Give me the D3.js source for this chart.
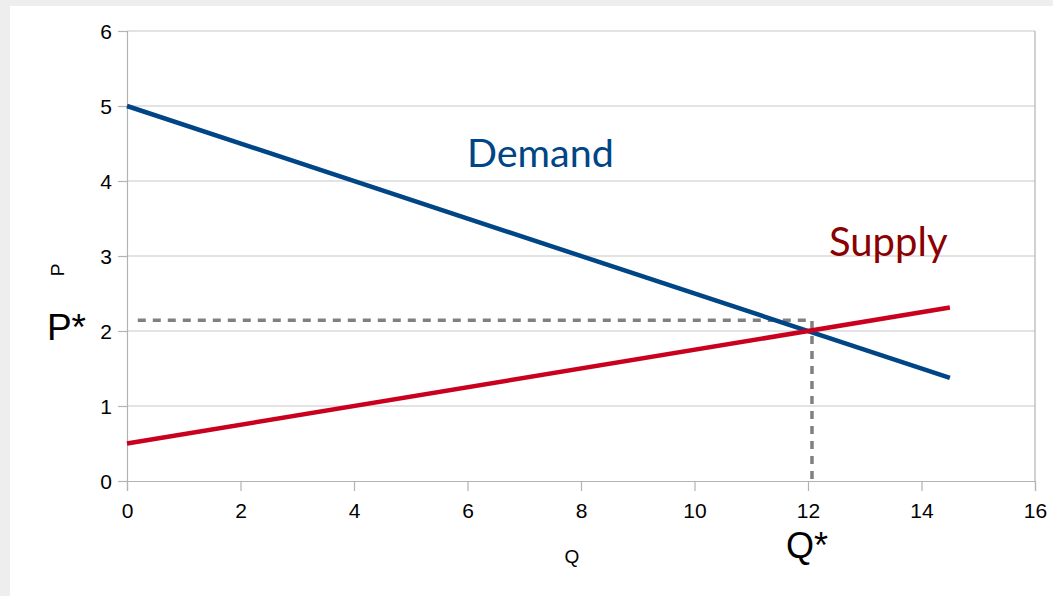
<!DOCTYPE html>
<html><head><meta charset="utf-8">
<script src="https://cdn.jsdelivr.net/npm/d3@7"></script>
<style>
html,body{margin:0;padding:0;background:#eeeeee;}
svg{display:block;}
</style></head>
<body>
<svg id="c" width="1053" height="596"></svg>
<script>
const xTicks = [0, 2, 4, 6, 8, 10, 12, 14, 16];
const yTicks = [0, 1, 2, 3, 4, 5, 6];
const demandQ = [0, 14.5];
const demandP = [5, 1.375];
const supplyQ = [0, 14.5];
const supplyP = [0.5, 2.3125];
const eqDashQ = [0.19, 12.07, 12.07];
const eqDashP = [2.145, 2.145, 0];
const labels = ["Demand", "Supply", "P*", "Q*", "P", "Q"];

const svg = d3.select("#c");
svg.append("rect").attr("x", 10).attr("y", 6).attr("width", 1043).attr("height", 590).attr("fill", "#fff");

const x = d3.scaleLinear().domain([0, 16]).range([127, 1035]);
const y = d3.scaleLinear().domain([0, 6]).range([481, 31]);

svg.append("g").selectAll("line").data(yTicks.filter(d => d > 0)).join("line")
  .attr("x1", x(0)).attr("x2", x(16)).attr("y1", d => y(d)).attr("y2", d => y(d))
  .attr("stroke", "#c8c8c8").attr("stroke-width", 1.2);
svg.append("line").attr("x1", x(16)).attr("x2", x(16)).attr("y1", y(0)).attr("y2", y(6))
  .attr("stroke", "#b3b3b3").attr("stroke-width", 1.2);

const yAxis = d3.axisLeft(y).tickValues(yTicks).tickSize(9).tickPadding(6).tickFormat(d3.format("d"));
const gy = svg.append("g").attr("transform", `translate(${x(0)},0)`).call(yAxis);
const xAxis = d3.axisBottom(x).tickValues(xTicks).tickSize(10).tickPadding(12).tickFormat(d3.format("d"));
const gx = svg.append("g").attr("transform", `translate(0,${y(0)})`).call(xAxis);
[gx, gy].forEach(g => {
  g.select(".domain").attr("stroke", "#b3b3b3").attr("stroke-width", 1.2);
  g.selectAll(".tick line").attr("stroke", "#b3b3b3").attr("stroke-width", 1.2);
  g.selectAll(".tick text").attr("font-family", "Liberation Sans, Arial, sans-serif")
    .attr("font-size", 21).attr("fill", "#000");
});
gy.selectAll(".tick text").attr("dy", "0.36em");

const line = d3.line().x(d => x(d[0])).y(d => y(d[1]));
svg.append("path").attr("d", line(eqDashQ.map((q, i) => [q, eqDashP[i]])))
  .attr("fill", "none").attr("stroke", "#808080").attr("stroke-width", 3.5)
  .attr("stroke-dasharray", "8,7");
svg.append("path").attr("d", line(demandQ.map((q, i) => [q, demandP[i]])))
  .attr("fill", "none").attr("stroke", "#004586").attr("stroke-width", 4.5);
svg.append("path").attr("d", line(supplyQ.map((q, i) => [q, supplyP[i]])))
  .attr("fill", "none").attr("stroke", "#c9001e").attr("stroke-width", 4.5);

svg.append("text").attr("x", 467).attr("y", 167).attr("font-family", "Lato, sans-serif")
  .attr("font-size", 39.5).attr("fill", "#004586").text(labels[0]);
svg.append("text").attr("x", 829).attr("y", 256).attr("font-family", "Lato, sans-serif")
  .attr("font-size", 40).attr("fill", "#8b0000").text(labels[1]);
svg.append("text").attr("x", 86).attr("y", 340).attr("text-anchor", "end")
  .attr("font-family", "Liberation Sans, Arial, sans-serif").attr("font-size", 37).text(labels[2]);
svg.append("text").attr("x", 807).attr("y", 558).attr("text-anchor", "middle")
  .attr("font-family", "Liberation Sans, Arial, sans-serif").attr("font-size", 36).text(labels[3]);
svg.append("text").attr("transform", "translate(64,270) rotate(-90)").attr("text-anchor", "middle")
  .attr("font-family", "Liberation Sans, Arial, sans-serif").attr("font-size", 19).text(labels[4]);
svg.append("text").attr("x", 572).attr("y", 563).attr("text-anchor", "middle")
  .attr("font-family", "Liberation Sans, Arial, sans-serif").attr("font-size", 19).text(labels[5]);
</script>
</body></html>
